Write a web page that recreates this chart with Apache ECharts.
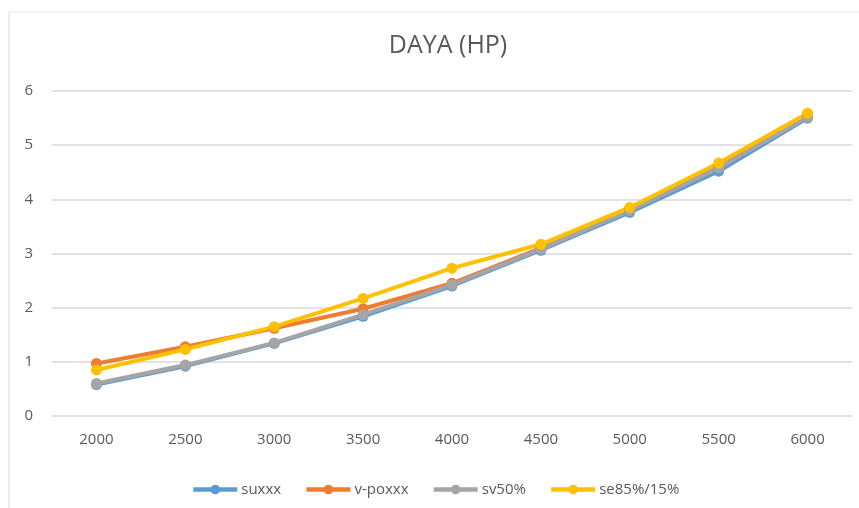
<!DOCTYPE html>
<html>
<head>
<meta charset="utf-8">
<script src="https://cdn.jsdelivr.net/npm/echarts@6/dist/echarts.min.js"></script>
<style>
  html, body { margin: 0; padding: 0; background: #fff; }
  #main { width: 859px; height: 508px; }
</style>
</head>
<body>
<div id="main"></div>
<script>
  var rpm = ['2000', '2500', '3000', '3500', '4000', '4500', '5000', '5500', '6000'];
  var suxxx = [0.58, 0.92, 1.34, 1.84, 2.40, 3.06, 3.76, 4.52, 5.50];
  var vpoxxx = [0.97, 1.28, 1.62, 1.98, 2.45, 3.10, 3.83, 4.62, 5.58];
  var sv50 = [0.60, 0.94, 1.35, 1.87, 2.42, 3.08, 3.79, 4.58, 5.52];
  var se85 = [0.85, 1.23, 1.65, 2.17, 2.73, 3.17, 3.85, 4.67, 5.59];
  var yTicks = [0, 1, 2, 3, 4, 5, 6];

  var myChart = echarts.init(document.getElementById('main'));

  function line(name, data, color) {
    return {
      name: name,
      type: 'line',
      data: data,
      symbol: 'circle',
      symbolSize: 11,
      lineStyle: { width: 4, color: color },
      itemStyle: { color: color },
      emphasis: { disabled: true }
    };
  }

  var option = {
    animation: false,
    color: ['#5B9BD5', '#ED7D31', '#A5A5A5', '#FFC000'],
    title: {
      text: 'DAYA (HP)',
      left: 443,
      textAlign: 'center',
      top: 28,
      textStyle: {
        fontFamily: 'Open Sans',
        fontWeight: 'normal',
        fontSize: 25,
        color: '#595959'
      }
    },
    graphic: [
      { type: 'line', shape: { x1: 9, y1: 12, x2: 859, y2: 12 }, style: { stroke: '#e6e6e6', lineWidth: 1 } },
      { type: 'line', shape: { x1: 9, y1: 12, x2: 9, y2: 508 }, style: { stroke: '#e6e6e6', lineWidth: 1.5 } }
    ],
    legend: {
      top: 477,
      left: 186,
      itemWidth: 44,
      itemHeight: 12,
      itemGap: 23,
      lineStyle: { width: 4.5 },
      textStyle: { fontFamily: 'Open Sans', fontSize: 15, color: '#595959', padding: [0, 0, 0, -1] },
      data: ['suxxx', 'v-poxxx', 'sv50%', 'se85%/15%']
    },
    grid: { left: 52, right: 7, top: 91, bottom: 92, containLabel: false },
    xAxis: {
      type: 'category',
      data: rpm,
      boundaryGap: true,
      axisLine: { show: false },
      axisTick: { show: false },
      axisLabel: { fontFamily: 'Open Sans', fontSize: 15, color: '#595959', margin: 16 }
    },
    yAxis: {
      type: 'value',
      min: yTicks[0],
      max: yTicks[yTicks.length - 1],
      interval: 1,
      axisLine: { show: false },
      axisTick: { show: false },
      axisLabel: { fontFamily: 'Open Sans', fontSize: 15, color: '#595959', margin: 19 },
      splitLine: { lineStyle: { color: '#d9d9d9', width: 1.5 } }
    },
    series: [
      line('suxxx', suxxx, '#5B9BD5'),
      line('v-poxxx', vpoxxx, '#ED7D31'),
      line('sv50%', sv50, '#A5A5A5'),
      line('se85%/15%', se85, '#FFC000')
    ]
  };

  myChart.setOption(option);
</script>
</body>
</html>
